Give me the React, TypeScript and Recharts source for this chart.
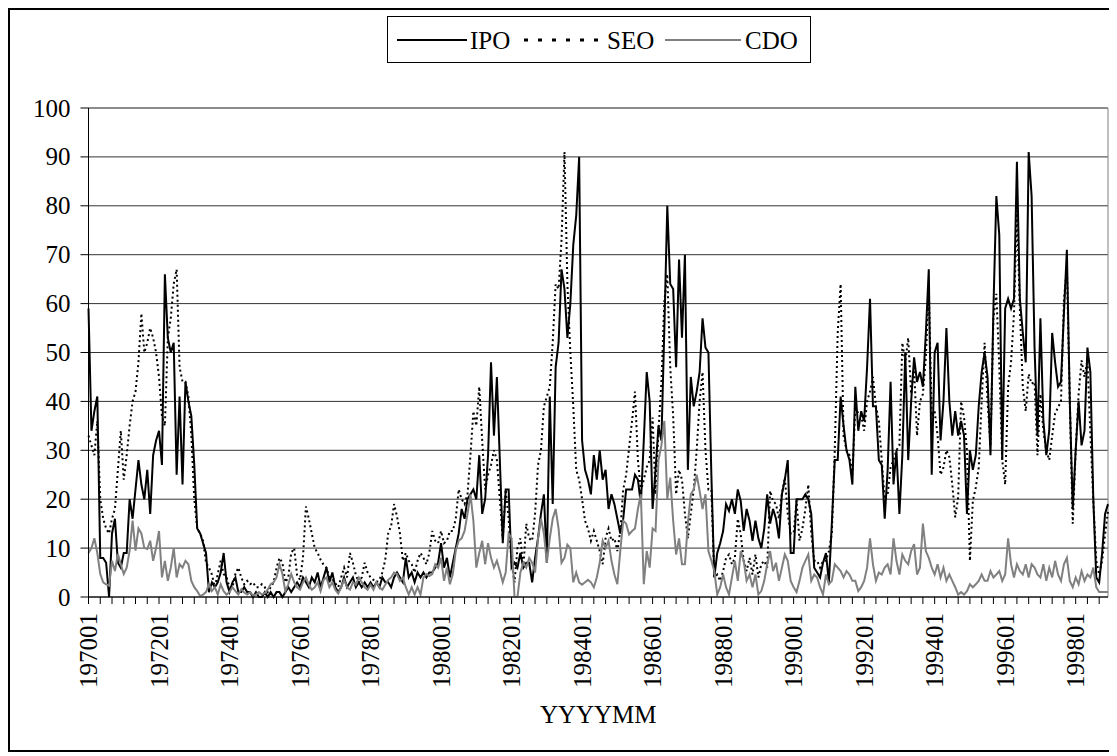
import React from 'react';
import { LineChart, Line, XAxis, YAxis, CartesianGrid, ReferenceLine } from 'recharts';

const YEARS = [1970, 1971, 1972, 1973, 1974, 1975, 1976, 1977, 1978, 1979, 1980, 1981, 1982, 1983, 1984,
  1985, 1986, 1987, 1988, 1989, 1990, 1991, 1992, 1993, 1994, 1995, 1996, 1997, 1998];
const MONTHS = ['01', '02', '03', '04', '05', '06', '07', '08', '09', '10', '11', '12'];
const CATEGORIES = YEARS.flatMap((y) => MONTHS.map((m) => `${y}${m}`));

const LABELED_TICKS = ['197001', '197201', '197401', '197601', '197801', '198001', '198201', '198401',
  '198601', '198801', '199001', '199201', '199401', '199601', '199801'];
const Y_TICKS = [0, 10, 20, 30, 40, 50, 60, 70, 80, 90, 100];

const IPO = [
  59, 34, 38, 41, 8, 8, 7, 0, 13, 16, 7, 6,
  9, 9, 20, 16, 22, 28, 23, 20, 26, 17, 29, 32,
  34, 27, 66, 53, 50, 52, 25, 41, 23, 44, 40, 37,
  27, 14, 13, 11, 9, 1, 3, 2, 3, 5, 9, 3,
  1, 3, 4, 1, 1, 2, 1, 1, 0, 1, 0, 0,
  1, 0, 1, 0, 1, 1, 0, 1, 2, 1, 2, 3,
  2, 4, 3, 2, 4, 3, 5, 2, 4, 6, 3, 5,
  2, 1, 2, 4, 2, 3, 4, 2, 3, 2, 3, 2,
  3, 2, 3, 2, 4, 3, 3, 2, 4, 5, 4, 3,
  8, 4, 5, 3, 5, 4, 5, 4, 5, 5, 6, 7,
  11, 6, 8, 4, 7, 10, 13, 18, 16, 20, 21, 22,
  20, 29, 17, 20, 29, 48, 33, 45, 28, 11, 22, 22,
  6, 7, 6, 9, 6, 7, 7, 3, 8, 12, 17, 21,
  7, 41, 19, 47, 52, 67, 63, 53, 60, 72, 78, 90,
  32, 26, 24, 21, 29, 24, 30, 24, 26, 18, 21, 19,
  16, 13, 16, 22, 22, 22, 25, 24, 19, 32, 46, 40,
  18, 26, 35, 32, 55, 80, 64, 63, 47, 69, 53, 70,
  26, 45, 39, 42, 46, 57, 51, 50, 25, 4, 9, 11,
  13.5, 19, 17.6, 20, 17, 22, 19.6, 13.5, 18, 15.6, 11.5, 15.6,
  12, 10, 14, 21, 15, 18, 16, 12, 21, 24, 28, 9,
  9, 20, 20, 20, 21, 20, 17, 6, 5, 4, 7, 9,
  3, 15, 28, 28, 41, 35, 30, 28, 23, 43, 34, 38,
  36, 47, 61, 39, 39, 28, 27, 16, 26, 44, 23, 30,
  17, 29, 50, 28, 40, 49, 44, 46, 43, 54, 67, 25,
  50, 52, 32, 40, 55, 40, 33, 38, 33, 36, 33, 17,
  30, 26, 29, 39, 46, 50, 45, 29, 59, 82, 74, 28,
  59, 61, 59, 61, 89, 61, 54, 48, 91, 82, 51, 33,
  57, 36, 29, 34, 54, 48, 43, 44, 58, 71, 40, 18,
  30, 40, 31, 34, 51, 46, 20, 4, 3, 9, 17, 19,
];

const SEO = [
  33, 31, 29, 36, 20, 16, 14, 13, 16, 18, 26, 34,
  24, 29, 35, 40, 42, 48, 58, 50, 52, 55, 53, 50,
  45, 37, 35, 53, 57, 64, 67, 47, 44, 44, 41, 33,
  20, 14, 13, 11.5, 7, 6, 4.6, 2, 4.7, 7.4, 4.7, 4,
  2, 2, 4.7, 6, 4, 2.6, 3.3, 2.6, 3, 2, 2, 2.6,
  2, 1, 2, 3, 6, 8, 7, 3, 4, 9, 10, 4.5,
  3.5, 8, 18.5, 16, 13, 10, 9, 7.6, 6.6, 6, 4, 3.5,
  2.8, 2, 4, 6, 4, 9, 7, 4.5, 3, 4, 7, 5,
  4, 3.5, 3, 3.5, 5, 7.6, 13, 14.5, 19, 16.5, 13, 7.4,
  9, 7.4, 6.7, 5, 7.4, 9, 8, 6.7, 9, 13.5, 11.5, 11,
  13.5, 11, 11.5, 13.5, 13.5, 16, 22, 20, 19, 21, 29, 38,
  35, 43, 32, 22, 25, 27, 30, 28, 20, 12, 22, 16,
  7, 3, 10, 12, 6, 15, 12, 11.5, 17, 27, 30, 39,
  41, 43, 52, 64, 63, 73, 91, 64, 50, 39, 26, 24,
  20, 15.6, 14, 11.5, 13.5, 11.5, 9.4, 6.7, 12, 14, 11.5, 12,
  9.4, 13.5, 22, 25, 30.5, 36, 42, 28, 21.7, 24, 26.5, 28,
  36.7, 21, 34, 44, 60.5, 66, 47, 37, 21, 26, 24, 17,
  12, 17, 22, 30, 40, 46, 30, 22, 22, 4, 4.6, 3.3,
  5.3, 8, 8.7, 6.7, 8, 16, 12.8, 7.4, 5.3, 8, 4.6, 8.7,
  4, 6.7, 7.4, 6, 21.7, 19.6, 19, 16, 21, 24.5, 17, 13,
  13, 19.7, 11.5, 14, 18, 23, 13, 7.4, 7.4, 6, 7.4, 7.4,
  9.4, 13, 30, 54, 64, 33, 30, 29, 25, 39, 37.5, 37,
  34, 40, 42, 45, 39, 36, 28, 20, 21, 26.5, 28, 30,
  31, 52, 48, 53, 41.5, 47, 33, 40, 41.5, 49, 63, 37,
  38, 33, 25, 26.5, 30, 28.6, 23, 16.3, 20.4, 40, 36.8, 30,
  7.4, 19.7, 22.4, 26.5, 40, 52, 40, 31, 57, 62, 47, 28,
  23, 43, 48, 58, 79, 59, 43, 38, 45.6, 43.6, 44, 29,
  41.5, 34, 30, 28, 33, 37.5, 38.8, 40, 60.7, 67.5, 40, 15,
  30, 41.5, 48.4, 45, 48.4, 33.4, 19.7, 7.4, 4.6, 7.4, 12.8, 17.6,
];

const CDO = [
  9, 10, 12, 9, 4.7, 3, 2.6, 2.3, 7.4, 5.3, 8.8, 6.7,
  4.7, 6, 9.5, 15.6, 9.5, 14, 13, 10, 9.8, 11.5, 7.4, 10,
  13.5, 4, 7.4, 3.3, 6, 10, 4, 6.7, 6, 7.4, 6.7, 3.3,
  2, 1.2, 0.2, 0.5, 1, 2.6, 1.2, 2, 0.5, 2.6, 1.2, 0.5,
  1, 2, 1.2, 0.5, 1.6, 0.9, 0.5, 1, 0.3, 0.5, 1, 0.5,
  0.8, 1.5, 2.6, 3, 4, 6.7, 4.7, 1.2, 2.6, 4.7, 3, 2,
  1.5, 3, 4, 2.5, 1.5, 2, 3, 1.2, 3.5, 4, 2, 3,
  1.5, 0.7, 2, 3.5, 2, 1.5, 3, 2.5, 4, 3, 2, 1.5,
  2.5, 1.5, 3, 2, 1.5, 2.5, 3.5, 4, 5, 4.7, 3.3, 4,
  2, 0.5, 2, 0.5, 2, 0.5, 4, 4.7, 4.3, 4.7, 6.7, 6,
  8, 3.3, 6, 2.6, 4.7, 9.5, 11.5, 12, 13.5, 17, 21, 15.6,
  6, 9, 11.5, 6.7, 11, 8, 6, 7.4, 5.3, 3, 5, 13,
  12, 0, 0, 5, 7, 6, 8, 7, 5, 12, 16, 13,
  7, 12, 16, 18, 14, 7, 8, 10.7, 10, 3, 5, 3,
  2.5, 3, 3.5, 3, 2, 4, 7, 11.5, 10, 11.5, 7.4, 4.6,
  2.6, 9.4, 15.6, 15, 12.8, 13.5, 14, 18, 21, 2.6, 9.4, 6,
  14, 13.5, 28, 31, 36, 20, 24.4, 15.6, 8.7, 12, 6.7, 6.7,
  15, 21, 22, 25, 21.7, 18, 21, 9.4, 7.4, 5.3, 0.5, 2,
  4.6, 2, 0.5, 4, 7.4, 3.3, 9.4, 7.4, 3.3, 4.6, 2, 4.6,
  0.5, 1.2, 3.3, 6.7, 9.4, 5.3, 7, 3.3, 6, 8.7, 7.4, 3.3,
  2, 1, 3.3, 6, 7.4, 8.7, 3.3, 4.6, 4, 2, 0.5, 4.6,
  2.6, 3.3, 6.7, 6, 5.3, 4, 5.3, 4.6, 3.3, 3.3, 1.2, 2,
  3.3, 6, 12, 6.7, 3.3, 5, 4.6, 6, 6.7, 4.6, 12, 7.4,
  4.6, 8.7, 7.4, 6.7, 9.4, 10.8, 4.6, 6, 15, 9.4, 8, 6,
  4.6, 6.7, 4, 6, 3.3, 4.6, 3.3, 2, 0.5, 1, 0.5, 1.2,
  2.6, 2, 2.6, 3.3, 4.6, 3.3, 3.3, 5.3, 4, 4.6, 5.3, 3.3,
  4.6, 12, 6.7, 4, 6.7, 5.3, 4.6, 6.7, 4, 6.7, 6, 4.6,
  4, 6.7, 3.3, 6, 4, 7.4, 4.6, 3.3, 6.7, 8, 3.3, 2,
  4, 2.6, 5.3, 3.3, 4.6, 4, 6, 2, 1, 1, 1, 1,
];

const SERIES = [
  { key: 'IPO', color: '#000000', dash: undefined as string | undefined },
  { key: 'SEO', color: '#000000', dash: '2 3' },
  { key: 'CDO', color: '#808080', dash: undefined as string | undefined },
];

const FONT = "'Liberation Serif', 'Times New Roman', serif";
const FS = 25;
const TEXT_STYLE = { fontFamily: FONT, fontSize: FS };

const CHART_W = 1101;
const CHART_H = 740;
const PLOT_LEFT = 78.5;
const PLOT_RIGHT = 1098;

const data = CATEGORIES.map((month, i) => ({ i, month, IPO: IPO[i], SEO: SEO[i], CDO: CDO[i] }));
const LAST = CATEGORIES.length - 1;
const X_TICKS = CATEGORIES.map((_, i) => i).filter((i) => i % 4 === 0);

const XTick = (props: any) => {
  const { x, y, payload } = props;
  const label = CATEGORIES[payload.value];
  if (!LABELED_TICKS.includes(label)) return <g />;
  const ty = y + 7;
  return (
    <text
      x={x}
      y={ty}
      transform={`rotate(-90, ${x}, ${ty})`}
      textAnchor="end"
      dy="0.34em"
      style={TEXT_STYLE}
      fill="#000"
    >
      {label}
    </text>
  );
};

const YTick = (props: any) => {
  const { x, y, payload } = props;
  return (
    <text x={x} y={y} dy="0.34em" textAnchor="end" style={TEXT_STYLE} fill="#000">
      {payload.value}
    </text>
  );
};

const XTitle = () => (
  <text x={(PLOT_LEFT + PLOT_RIGHT) / 2} y={713} textAnchor="middle" style={TEXT_STYLE} fill="#000">
    YYYYMM
  </text>
);

const LegendBox = () => (
  <div
    style={{
      position: 'absolute',
      left: 377,
      top: 6,
      width: 424,
      height: 47,
      border: '1px solid #000',
      boxSizing: 'border-box',
      background: '#fff',
    }}
  >
    <svg width={422} height={45} style={{ display: 'block' }}>
      <line x1={9} x2={79} y1={23} y2={23} stroke={SERIES[0].color} strokeWidth={2} />
      <text x={82} y={23} dy="0.34em" style={TEXT_STYLE}>{SERIES[0].key}</text>
      <line x1={136} x2={216} y1={23} y2={23} stroke={SERIES[1].color} strokeWidth={3} strokeDasharray="4 10" />
      <text x={219} y={23} dy="0.34em" style={TEXT_STYLE}>{SERIES[1].key}</text>
      <line x1={277} x2={353} y1={23} y2={23} stroke={SERIES[2].color} strokeWidth={2} />
      <text x={357} y={23} dy="0.34em" style={TEXT_STYLE}>{SERIES[2].key}</text>
    </svg>
  </div>
);

export default function App() {
  return (
    <div
      style={{
        position: 'relative',
        width: CHART_W + 4,
        height: CHART_H + 4,
        border: '2px solid #000',
        boxSizing: 'border-box',
        background: '#fff',
        fontFamily: FONT,
      }}
    >
      <LineChart
        width={CHART_W}
        height={CHART_H}
        data={data}
        margin={{ top: 98, right: CHART_W - PLOT_RIGHT, bottom: 23, left: 0 }}
      >
        <CartesianGrid horizontal vertical={false} stroke="#333" strokeWidth={1} />
        <XAxis
          dataKey="i"
          type="number"
          domain={[0, LAST]}
          ticks={X_TICKS}
          interval={0}
          tick={<XTick />}
          tickSize={7}
          tickMargin={2}
          height={130}
          axisLine={{ stroke: '#000', strokeWidth: 1 }}
          tickLine={{ stroke: '#000', strokeWidth: 1 }}
          label={<XTitle />}
        />
        <YAxis
          type="number"
          domain={[0, 100]}
          ticks={Y_TICKS}
          interval={0}
          width={PLOT_LEFT}
          tickSize={8}
          tickMargin={10}
          axisLine={{ stroke: '#000', strokeWidth: 1 }}
          tickLine={{ stroke: '#000', strokeWidth: 1 }}
          tick={<YTick />}
        />
        <ReferenceLine y={100} stroke="#808080" strokeWidth={1} />
        <ReferenceLine x={LAST} stroke="#808080" strokeWidth={1} />
        {SERIES.map((s) => (
          <Line
            key={s.key}
            type="linear"
            dataKey={s.key}
            stroke={s.color}
            strokeWidth={2}
            strokeDasharray={s.dash}
            dot={false}
            activeDot={false}
            isAnimationActive={false}
          />
        ))}
      </LineChart>
      <LegendBox />
    </div>
  );
}
